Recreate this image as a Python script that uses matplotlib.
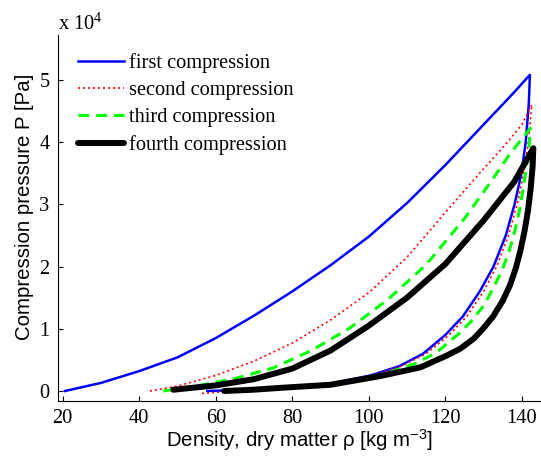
import matplotlib
matplotlib.use("Agg")
import matplotlib.pyplot as plt

# pressure values in units of 10^4 Pa, density in kg m^-3
first_load_x = [20.6, 30, 40, 50, 60, 70, 80, 90, 100, 110, 120, 130, 138, 142.1]
first_load_y = [0.0, 0.13, 0.32, 0.54, 0.85, 1.21, 1.60, 2.02, 2.48, 3.02, 3.63, 4.28, 4.80, 5.08]
first_unload_x = [142.1, 141.8, 141.0, 139.9, 138.1, 135.8, 132.6, 129.0, 124.6, 120.0,
                  114.2, 108.0, 100.5, 90.0, 78.0, 66.0, 57.8]
first_unload_y = [5.08, 4.6, 4.0, 3.5, 3.0, 2.5, 2.0, 1.6, 1.2, 0.9,
                  0.6, 0.4, 0.25, 0.12, 0.05, 0.015, 0.0]

second_load_x = [42.8, 50, 60, 70, 80, 90, 100, 110, 120, 130, 136, 140, 142.6]
second_load_y = [0.0, 0.08, 0.25, 0.48, 0.77, 1.14, 1.58, 2.15, 2.87, 3.57, 3.98, 4.28, 4.6]
second_unload_x = [142.6, 141.7, 140.5, 138.8, 136.5, 133.4, 130.0, 125.6, 121.0, 115.0,
                   108.6, 101.0, 90.5, 77.0, 65.0, 56.0]
second_unload_y = [4.6, 4.0, 3.5, 3.0, 2.5, 2.0, 1.6, 1.2, 0.9, 0.6,
                   0.4, 0.25, 0.12, 0.04, 0.0, -0.04]

third_load_x = [46.3, 55, 65, 75, 85, 95, 105, 115, 125, 132, 137, 142.2]
third_load_y = [0.0, 0.08, 0.2, 0.37, 0.65, 1.01, 1.47, 2.03, 2.77, 3.37, 3.82, 4.22]
third_unload_x = [142.2, 141.85, 140.85, 139.7, 138.3, 136.7, 134.9, 132.5, 130.0, 126.9,
                  123.9, 120.4, 117.75, 112.5, 104.5, 94.5, 84.6, 73.7, 62.8]
third_unload_y = [4.22, 3.9, 3.45, 3.0, 2.6, 2.25, 1.95, 1.65, 1.37, 1.13,
                  0.94, 0.76, 0.62, 0.45, 0.28, 0.16, 0.08, 0.03, 0.0]

fourth_load_x = [48.9, 60, 70, 80, 90, 100, 110, 120, 130, 138, 143.0]
fourth_load_y = [0.02, 0.09, 0.19, 0.36, 0.65, 1.05, 1.5, 2.04, 2.74, 3.36, 3.9]
fourth_unload_x = [143.0, 142.8, 142.3, 141.6, 140.7, 139.6, 138.4, 136.9, 135.0, 132.5,
                   129.85, 127.4, 123.9, 120.4, 113.5, 103.0, 90.0, 76.8, 69.75, 62.2]
fourth_unload_y = [3.9, 3.6, 3.25, 2.9, 2.57, 2.25, 1.97, 1.7, 1.45, 1.2,
                   1.0, 0.84, 0.68, 0.57, 0.38, 0.24, 0.1, 0.05, 0.02, 0.0]

labels = ["first compression", "second compression", "third compression", "fourth compression"]
x_ticks = [20, 40, 60, 80, 100, 120, 140]
y_ticks = [0, 1, 2, 3, 4, 5]

plt.rcParams["mathtext.default"] = "regular"
serif = "Liberation Serif"
sans = "Liberation Sans"
fs = 14.7

fig = plt.figure(figsize=(5.41, 4.61), dpi=100)
ax = fig.add_axes([0.1067, 0.1312, 0.8933, 0.793])

ax.plot(first_load_x + first_unload_x, first_load_y + first_unload_y,
        color="#0000ff", lw=1.8, label=labels[0])
ax.plot(second_load_x + second_unload_x, second_load_y + second_unload_y,
        color="#ff0000", lw=1.2, linestyle=(0, (1.2, 1.8)), label=labels[1])
ax.plot(third_load_x + third_unload_x, third_load_y + third_unload_y,
        color="#00ff00", lw=2.2, linestyle=(0, (3.5, 2.3)), label=labels[2])
ax.plot(fourth_load_x + fourth_unload_x, fourth_load_y + fourth_unload_y,
        color="black", lw=4.3, solid_capstyle="round", label=labels[3])

ax.set_xlim(18.7, 145.0)
ax.set_ylim(-0.153, 5.72)
ax.set_xticks(x_ticks)
ax.set_yticks(y_ticks)
ax.tick_params(direction="in", length=3.5, width=0.8, labelsize=fs, pad=6)
for lab in ax.get_xticklabels() + ax.get_yticklabels():
    lab.set_family(serif)
for side in ["top", "right"]:
    ax.spines[side].set_visible(False)
for side in ["left", "bottom"]:
    ax.spines[side].set_linewidth(0.8)

leg = ax.legend(loc="upper left", bbox_to_anchor=(0.042, 0.95), frameon=False,
                borderaxespad=0, borderpad=0, handlelength=2.25, handletextpad=0.25,
                labelspacing=0.38, prop={"family": serif, "size": fs})

fig.text(58 / 541, 1 - 30 / 461, "x 10$^{4}$", family=serif, fontsize=fs, ha="left", va="baseline")
fig.text(25 / 541, 1 - 207 / 461, "Compression pressure P [Pa]", family=sans, fontsize=fs,
         rotation=90, ha="center", va="center")
fig.text(299 / 541, 1 - 440 / 461, "Density, dry matter ρ [kg m$^{-3}$]", family=sans, fontsize=fs,
         ha="center", va="center")

fig.savefig("out.png", dpi=100)
